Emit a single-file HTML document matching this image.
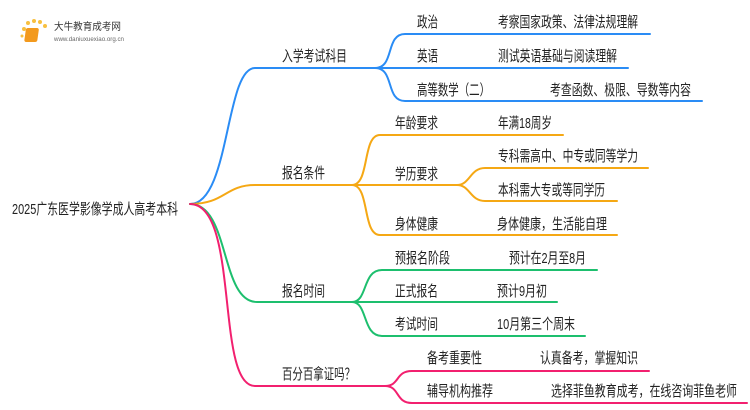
<!DOCTYPE html>
<html><head><meta charset="utf-8"><style>
html,body{margin:0;padding:0;background:#fff;}
svg{display:block;}
text{font-family:"Liberation Sans","Noto Sans CJK SC",sans-serif;font-size:15px;fill:#222;}
</style></head><body>
<svg width="750" height="410" viewBox="0 0 750 410" xmlns="http://www.w3.org/2000/svg">
<g fill="none" stroke-width="2" stroke-linecap="round">
<path d="M190,204 C230,204 225,68 255,68 L375,68" stroke="#2a8cf5"/>
<path d="M375,68 C395,68 385,34 405,34 L650,34" stroke="#2a8cf5"/>
<path d="M375,68 L628,68" stroke="#2a8cf5"/>
<path d="M375,68 C395,68 385,101 405,101 L702,101" stroke="#2a8cf5"/>
<path d="M190,204 C225,204 225,185 255,185 L352,185" stroke="#f5a814"/>
<path d="M352,185 C370,185 362,135 380,135 L563,135" stroke="#f5a814"/>
<path d="M352,185 L457,185" stroke="#f5a814"/>
<path d="M457,185 C470,185 470,168 485,168 L648,168" stroke="#f5a814"/>
<path d="M457,185 C470,185 470,201 485,201 L617,201" stroke="#f5a814"/>
<path d="M352,185 C370,185 362,235 380,235 L617,235" stroke="#f5a814"/>
<path d="M190,204 C230,204 220,302 257,302 L352,302" stroke="#1dbf6e"/>
<path d="M352,302 C368,302 362,270 382,270 L597,270" stroke="#1dbf6e"/>
<path d="M352,302 L557,302" stroke="#1dbf6e"/>
<path d="M352,302 C368,302 362,336 382,336 L585,336" stroke="#1dbf6e"/>
<path d="M190,204 C240,204 215,386 255,386 L385,386" stroke="#f2206f"/>
<path d="M385,386 C400,386 395,371 412,371 L649,371" stroke="#f2206f"/>
<path d="M385,386 C400,386 395,403 412,403 L747,403" stroke="#f2206f"/>
</g>
<g>
<circle cx="24" cy="29" r="2" fill="#f8c040"/><circle cx="28" cy="23" r="2" fill="#f8c040"/><circle cx="34" cy="21" r="2" fill="#f8c040"/><circle cx="40" cy="22" r="2" fill="#f8c040"/><circle cx="45" cy="26" r="2" fill="#f8c040"/><circle cx="22" cy="36" r="1.5" fill="#f8c040"/>
<rect x="30" y="28" width="13" height="14" rx="2" fill="#f39a1e" transform="skewX(-8)"/>
<text x="54" y="30" textLength="67" lengthAdjust="spacingAndGlyphs" style="font-size:10px;fill:#333">大牛教育成考网</text>
<text x="54" y="41" textLength="70" lengthAdjust="spacingAndGlyphs" style="font-size:6px;fill:#666">www.daniuxuexiao.org.cn</text>
</g>
<text x="12" y="214" textLength="166" lengthAdjust="spacingAndGlyphs">2025广东医学影像学成人高考本科</text>
<text x="282" y="61" textLength="65" lengthAdjust="spacingAndGlyphs">入学考试科目</text>
<text x="417" y="27" textLength="21" lengthAdjust="spacingAndGlyphs">政治</text>
<text x="498" y="27" textLength="140" lengthAdjust="spacingAndGlyphs">考察国家政策、法律法规理解</text>
<text x="417" y="61" textLength="21" lengthAdjust="spacingAndGlyphs">英语</text>
<text x="498" y="61" textLength="119" lengthAdjust="spacingAndGlyphs">测试英语基础与阅读理解</text>
<text x="417" y="95" textLength="73" lengthAdjust="spacingAndGlyphs">高等数学（二）</text>
<text x="550" y="95" textLength="141" lengthAdjust="spacingAndGlyphs">考查函数、极限、导数等内容</text>
<text x="282" y="178" textLength="43" lengthAdjust="spacingAndGlyphs">报名条件</text>
<text x="395" y="128" textLength="43" lengthAdjust="spacingAndGlyphs">年龄要求</text>
<text x="498" y="128" textLength="54" lengthAdjust="spacingAndGlyphs">年满18周岁</text>
<text x="395" y="179" textLength="43" lengthAdjust="spacingAndGlyphs">学历要求</text>
<text x="498" y="161" textLength="140" lengthAdjust="spacingAndGlyphs">专科需高中、中专或同等学力</text>
<text x="498" y="195" textLength="107" lengthAdjust="spacingAndGlyphs">本科需大专或等同学历</text>
<text x="395" y="229" textLength="43" lengthAdjust="spacingAndGlyphs">身体健康</text>
<text x="497" y="229" textLength="110" lengthAdjust="spacingAndGlyphs">身体健康，生活能自理</text>
<text x="282" y="296" textLength="43" lengthAdjust="spacingAndGlyphs">报名时间</text>
<text x="395" y="263" textLength="55" lengthAdjust="spacingAndGlyphs">预报名阶段</text>
<text x="509" y="263" textLength="77" lengthAdjust="spacingAndGlyphs">预计在2月至8月</text>
<text x="395" y="296" textLength="43" lengthAdjust="spacingAndGlyphs">正式报名</text>
<text x="497" y="296" textLength="50" lengthAdjust="spacingAndGlyphs">预计9月初</text>
<text x="395" y="329" textLength="43" lengthAdjust="spacingAndGlyphs">考试时间</text>
<text x="497" y="329" textLength="78" lengthAdjust="spacingAndGlyphs">10月第三个周末</text>
<text x="282" y="379" textLength="73" lengthAdjust="spacingAndGlyphs">百分百拿证吗？</text>
<text x="427" y="363" textLength="55" lengthAdjust="spacingAndGlyphs">备考重要性</text>
<text x="540" y="363" textLength="98" lengthAdjust="spacingAndGlyphs">认真备考，掌握知识</text>
<text x="427" y="396" textLength="66" lengthAdjust="spacingAndGlyphs">辅导机构推荐</text>
<text x="551" y="396" textLength="186" lengthAdjust="spacingAndGlyphs">选择菲鱼教育成考，在线咨询菲鱼老师</text>
</svg>
</body></html>
